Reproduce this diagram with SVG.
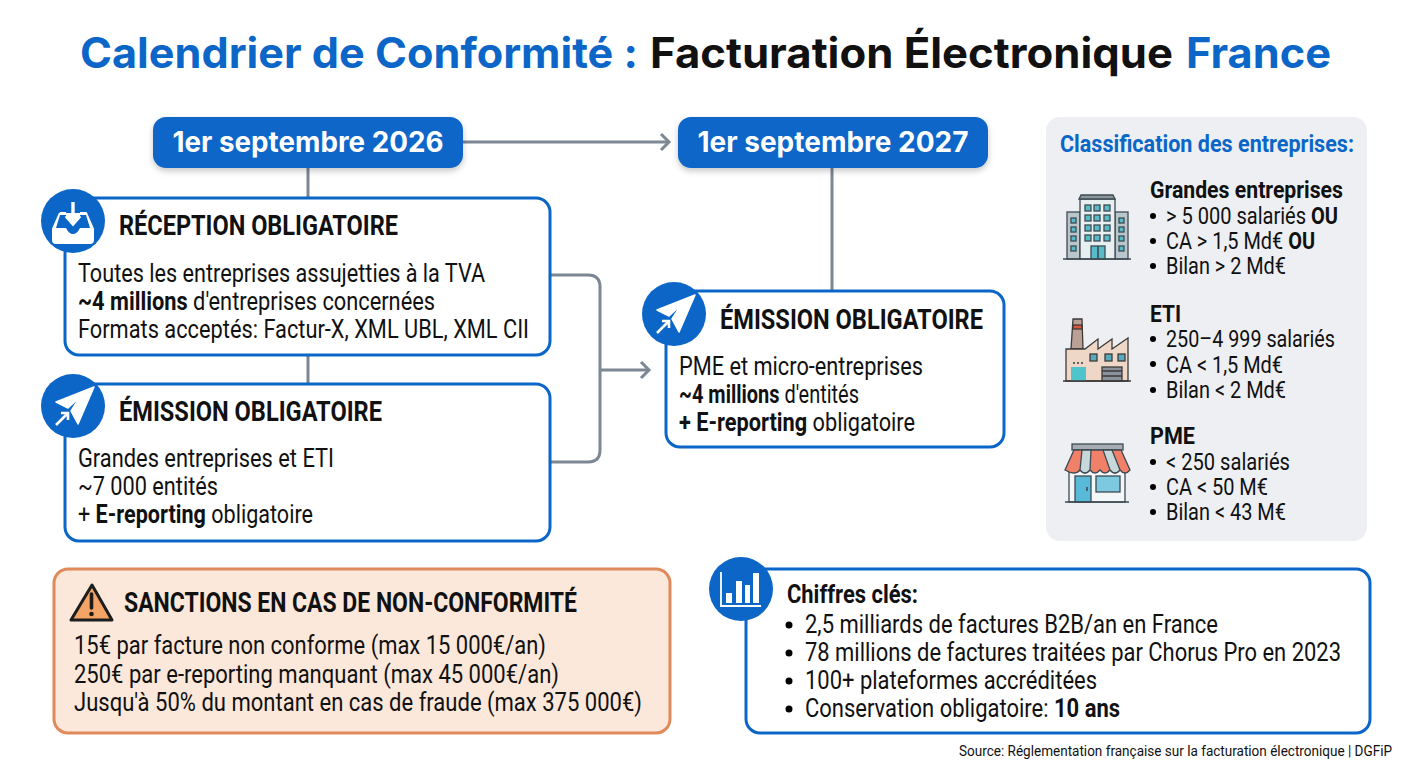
<svg xmlns="http://www.w3.org/2000/svg" width="1408" height="768" viewBox="0 0 1408 768">
<style>
text{font-family:Roboto,"Liberation Sans",sans-serif;fill:#111;font-size:25px}
.t{font-family:Inter,"Liberation Sans",sans-serif;font-weight:700;font-size:42px}
.b{color:#0b66c8;fill:#0b66c8}
.p{font-family:Inter,"Liberation Sans",sans-serif;font-weight:700;font-size:28px;fill:#fff;text-anchor:middle}
.h{font-weight:700;font-size:27px}
.s{font-size:24px}
.sb{font-size:24px;font-weight:700}
b,.w{font-weight:700}
.card{fill:#fff;stroke:#0b66c8;stroke-width:3}
.pill{fill:#0b66c8;filter:url(#sh)}
.ic{fill:#0b66c8}
.con{fill:none;stroke:#7c8794;stroke-width:3;stroke-linejoin:round}
.w1{fill:#fff}
.ln{stroke:#3d4a52;stroke-width:1.5}
</style>
<defs>
<filter id="sh" x="-10%" y="-30%" width="120%" height="170%"><feDropShadow dx="0" dy="3" stdDeviation="3" flood-color="#000" flood-opacity=".22"/></filter>
<marker id="ah" markerUnits="userSpaceOnUse" markerWidth="14" markerHeight="20" refX="11" refY="10" orient="auto"><path d="M3 2 L11 10 L3 18" fill="none" stroke="#7c8794" stroke-width="3"/></marker>
<g id="plane"><path d="M21 -19 L-17 -4 L-5 2 L7 -9 L-2 5 L5 18 Z" fill="#fff" stroke="#fff" stroke-width="1.5" stroke-linejoin="round"/><path d="M-17 19 L-6 8 M-12 7 H-5 V14" fill="none" stroke="#fff" stroke-width="2.6"/></g>
</defs>
<rect width="1408" height="768" fill="#fff"/>
<g id="title">
<text class="t b" x="80" y="68" textLength="558" lengthAdjust="spacingAndGlyphs">Calendrier de Conformité :</text>
<text class="t" x="650" y="68" textLength="523" lengthAdjust="spacingAndGlyphs">Facturation Électronique</text>
<text class="t b" x="1186" y="68" textLength="145" lengthAdjust="spacingAndGlyphs">France</text>
</g>
<g id="connectors">
<path class="con" d="M308 168V198M308 355V384"/>
<path class="con" d="M463 142H669" marker-end="url(#ah)"/>
<path class="con" d="M832 168V291"/>
<path class="con" d="M551 275H588Q600 275 600 287V450Q600 462 588 462H551"/>
<path class="con" d="M600 370H649" marker-end="url(#ah)"/>
</g>
<g id="date-2026"><rect class="pill" x="153" y="117" width="310" height="51" rx="13"/><text class="p" x="308" y="152" textLength="271" lengthAdjust="spacingAndGlyphs">1er septembre 2026</text></g>
<g id="date-2027"><rect class="pill" x="678" y="117" width="310" height="51" rx="13"/><text class="p" x="833" y="152" textLength="271" lengthAdjust="spacingAndGlyphs">1er septembre 2027</text></g>
<g id="reception">
<rect class="card" x="65" y="198" width="485" height="157" rx="14"/>
<circle class="ic" cx="73" cy="221" r="32"/>
<path d="M60 213 L53 229 V240 Q53 243 56 243 H90 Q93 243 93 240 V229 L86 213 H80 M66 213 H60 M53 229 H65 Q68 236 73 236 Q78 236 81 229 H93" fill="#fff" stroke="#fff" stroke-width="2" stroke-linejoin="round"/>
<path d="M60 215 L56 228 H66 Q69 234 73 234 Q77 234 80 228 H90 L86 215 H80 V219 H66 V215Z" fill="#0b66c8"/>
<path d="M73 202 V223 M66 216 L73 224 L80 216" fill="none" stroke="#fff" stroke-width="3.4"/>
<text class="h" x="119" y="235" textLength="279" lengthAdjust="spacingAndGlyphs">RÉCEPTION OBLIGATOIRE</text>
<text x="78" y="282" textLength="407" lengthAdjust="spacingAndGlyphs">Toutes les entreprises assujetties à la TVA</text>
<text x="78" y="310" textLength="357" lengthAdjust="spacingAndGlyphs"><tspan class="w">~4 millions</tspan> d'entreprises concernées</text>
<text x="78" y="338" textLength="451" lengthAdjust="spacingAndGlyphs">Formats acceptés: Factur-X, XML UBL, XML CII</text>
</g>
<g id="emission-2026">
<rect class="card" x="65" y="384" width="485" height="157" rx="14"/>
<circle class="ic" cx="73" cy="406" r="32"/>
<use href="#plane" x="73" y="406"/>
<text class="h" x="119" y="421" textLength="263" lengthAdjust="spacingAndGlyphs">ÉMISSION OBLIGATOIRE</text>
<text x="78" y="467" textLength="256" lengthAdjust="spacingAndGlyphs">Grandes entreprises et ETI</text>
<text x="78" y="495" textLength="140" lengthAdjust="spacingAndGlyphs">~7 000 entités</text>
<text x="78" y="523" textLength="235" lengthAdjust="spacingAndGlyphs">+ <tspan class="w">E-reporting</tspan> obligatoire</text>
</g>
<g id="emission-2027">
<rect class="card" x="666" y="291" width="338" height="156" rx="14"/>
<circle class="ic" cx="674" cy="314" r="32"/>
<use href="#plane" x="674" y="314"/>
<text class="h" x="720" y="329" textLength="263" lengthAdjust="spacingAndGlyphs">ÉMISSION OBLIGATOIRE</text>
<text x="679" y="375" textLength="244" lengthAdjust="spacingAndGlyphs">PME et micro-entreprises</text>
<text x="679" y="403" textLength="180" lengthAdjust="spacingAndGlyphs"><tspan class="w">~4 millions</tspan> d'entités</text>
<text x="679" y="431" textLength="236" lengthAdjust="spacingAndGlyphs"><tspan class="w">+ E-reporting</tspan> obligatoire</text>
</g>
<g id="classification">
<rect x="1046" y="117" width="321" height="424" rx="14" fill="#edeff3"/>
<text class="sb b" x="1060" y="152" textLength="294" lengthAdjust="spacingAndGlyphs">Classification des entreprises:</text>
<g id="icon-building" stroke="#3d4a52" stroke-width="1.3">
<rect x="1067" y="212" width="13" height="47" fill="#b9c6cb"/><rect x="1115" y="212" width="13" height="47" fill="#b9c6cb"/>
<rect x="1080" y="199" width="35" height="60" fill="#e8eff0"/><path d="M1081 195H1113L1115 199H1079Z" fill="#8b979c"/>
<g fill="#58bcc8"><rect x="1071" y="218" width="5" height="5"/><rect x="1071" y="227" width="5" height="5"/><rect x="1071" y="236" width="5" height="5"/><rect x="1071" y="246" width="5" height="5"/><rect x="1119" y="218" width="5" height="5"/><rect x="1119" y="227" width="5" height="5"/><rect x="1119" y="236" width="5" height="5"/><rect x="1119" y="246" width="5" height="5"/>
<rect x="1085" y="205" width="6" height="6"/><rect x="1094" y="205" width="6" height="6"/><rect x="1104" y="205" width="6" height="6"/><rect x="1085" y="215" width="6" height="6"/><rect x="1094" y="215" width="6" height="6"/><rect x="1104" y="215" width="6" height="6"/><rect x="1085" y="225" width="6" height="6"/><rect x="1094" y="225" width="6" height="6"/><rect x="1104" y="225" width="6" height="6"/><rect x="1085" y="235" width="6" height="6"/><rect x="1094" y="235" width="6" height="6"/><rect x="1104" y="235" width="6" height="6"/>
<rect x="1091" y="246" width="14" height="13"/></g><path d="M1098 246V259M1063 259H1131" fill="none" stroke-width="1.6"/>
</g>
<text class="sb" x="1150" y="198" textLength="193" lengthAdjust="spacingAndGlyphs">Grandes entreprises</text>
<circle cx="1153" cy="216" r="3"/><circle cx="1153" cy="241" r="3"/><circle cx="1153" cy="266" r="3"/>
<text class="s" x="1166" y="224" textLength="172" lengthAdjust="spacingAndGlyphs">&gt; 5 000 salariés <tspan class="w">OU</tspan></text>
<text class="s" x="1166" y="249" textLength="149" lengthAdjust="spacingAndGlyphs">CA &gt; 1,5 Md€ <tspan class="w">OU</tspan></text>
<text class="s" x="1166" y="274" textLength="120" lengthAdjust="spacingAndGlyphs">Bilan &gt; 2 Md€</text>
<g id="icon-factory" stroke="#3d3a38" stroke-width="1.3">
<path d="M1071 349L1073 319H1082L1083 349Z" fill="#b99f94"/><rect x="1073" y="325" width="9" height="4" fill="#d9553f"/>
<path d="M1066 349H1085L1098 339V349L1112 339V349L1128 338V381H1066Z" fill="#efd7c8"/>
<rect x="1071" y="367" width="15" height="14" fill="#4fc4cc" stroke="none"/>
<rect x="1090" y="354" width="7" height="7" fill="#58a9bd"/><rect x="1105" y="354" width="7" height="7" fill="#58a9bd"/><rect x="1118" y="354" width="7" height="7" fill="#58a9bd"/>
<rect x="1102" y="367" width="20" height="14" fill="#8b929c"/><path d="M1102 371H1122M1102 376H1122M1063 381H1131" fill="none" stroke-width="1.6"/>
<path d="M1073 363H1085" stroke-dasharray="2 2" fill="none"/>
</g>
<text class="sb" x="1150" y="322" textLength="31" lengthAdjust="spacingAndGlyphs">ETI</text>
<circle cx="1153" cy="339" r="3"/><circle cx="1153" cy="364" r="3"/><circle cx="1153" cy="390" r="3"/>
<text class="s" x="1166" y="347" textLength="169" lengthAdjust="spacingAndGlyphs">250–4 999 salariés</text>
<text class="s" x="1166" y="373" textLength="117" lengthAdjust="spacingAndGlyphs">CA &lt; 1,5 Md€</text>
<text class="s" x="1166" y="398" textLength="120" lengthAdjust="spacingAndGlyphs">Bilan &lt; 2 Md€</text>
<g id="icon-store" stroke="#3d4a52" stroke-width="1.3">
<rect x="1069" y="468" width="56" height="34" fill="#f4f7f8"/>
<rect x="1072" y="444" width="51" height="6" fill="#a7aeb3"/>
<path d="M1074 450H1121L1130 470Q1125 476 1120 470Q1115 476 1110 470Q1105 476 1100 470Q1095 476 1090 470Q1085 476 1080 470Q1075 476 1065 470Z" fill="#f08068"/>
<path d="M1082 450H1091L1090 470Q1085 476 1080 470ZM1103 450H1112L1120 470Q1115 476 1110 470Z" fill="#c7d8da"/>
<rect x="1075" y="476" width="16" height="26" fill="#58b9d8"/><rect x="1096" y="476" width="24" height="16" fill="#7cc9e0"/>
<path d="M1087 487V491M1065 502H1129" fill="none" stroke-width="1.6"/>
</g>
<text class="sb" x="1150" y="444" textLength="45" lengthAdjust="spacingAndGlyphs">PME</text>
<circle cx="1153" cy="462" r="3"/><circle cx="1153" cy="487" r="3"/><circle cx="1153" cy="512" r="3"/>
<text class="s" x="1166" y="470" textLength="124" lengthAdjust="spacingAndGlyphs">&lt; 250 salariés</text>
<text class="s" x="1166" y="495" textLength="102" lengthAdjust="spacingAndGlyphs">CA &lt; 50 M€</text>
<text class="s" x="1166" y="520" textLength="120" lengthAdjust="spacingAndGlyphs">Bilan &lt; 43 M€</text>
</g>
<g id="sanctions">
<rect x="54" y="569" width="616" height="164" rx="14" fill="#fbe8da" stroke="#e08a5b" stroke-width="3"/>
<path d="M92 585L112 620H71Z" fill="#f4a566" stroke="#1d1d1d" stroke-width="3" stroke-linejoin="round"/>
<path d="M91.500 594V608" stroke="#1d1d1d" stroke-width="3.600" stroke-linecap="round"/><circle cx="91.500" cy="614" r="2.300" fill="#1d1d1d"/>
<text class="h" x="124" y="612" textLength="453" lengthAdjust="spacingAndGlyphs">SANCTIONS EN CAS DE NON-CONFORMITÉ</text>
<text x="74" y="654" textLength="472" lengthAdjust="spacingAndGlyphs">15€ par facture non conforme (max 15 000€/an)</text>
<text x="74" y="683" textLength="485" lengthAdjust="spacingAndGlyphs">250€ par e-reporting manquant (max 45 000€/an)</text>
<text x="74" y="711" textLength="568" lengthAdjust="spacingAndGlyphs">Jusqu'à 50% du montant en cas de fraude (max 375 000€)</text>
</g>
<g id="chiffres">
<rect class="card" x="746" y="569" width="624" height="164" rx="14"/>
<circle class="ic" cx="741" cy="589" r="32"/>
<path d="M721 572V606H761" fill="none" stroke="#fff" stroke-width="1.800"/>
<g fill="#fff"><rect x="726" y="593" width="6" height="10"/><rect x="736" y="581" width="6" height="22"/><rect x="745" y="585" width="5" height="18"/><rect x="753" y="573" width="6" height="30"/></g>
<text class="h" style="font-size:25px" x="787" y="603" textLength="131" lengthAdjust="spacingAndGlyphs">Chiffres clés:</text>
<circle cx="789" cy="625" r="3.500"/><circle cx="789" cy="653" r="3.500"/><circle cx="789" cy="681" r="3.500"/><circle cx="789" cy="709" r="3.500"/>
<text x="805" y="633" textLength="413" lengthAdjust="spacingAndGlyphs">2,5 milliards de factures B2B/an en France</text>
<text x="805" y="661" textLength="536" lengthAdjust="spacingAndGlyphs">78 millions de factures traitées par Chorus Pro en 2023</text>
<text x="805" y="689" textLength="292" lengthAdjust="spacingAndGlyphs">100+ plateformes accréditées</text>
<text x="805" y="717" textLength="315" lengthAdjust="spacingAndGlyphs">Conservation obligatoire: <tspan class="w">10 ans</tspan></text>
</g>
<text id="source" x="959" y="756" style="font-size:14px" textLength="433" lengthAdjust="spacingAndGlyphs">Source: Réglementation française sur la facturation électronique | DGFiP</text>
</svg>
